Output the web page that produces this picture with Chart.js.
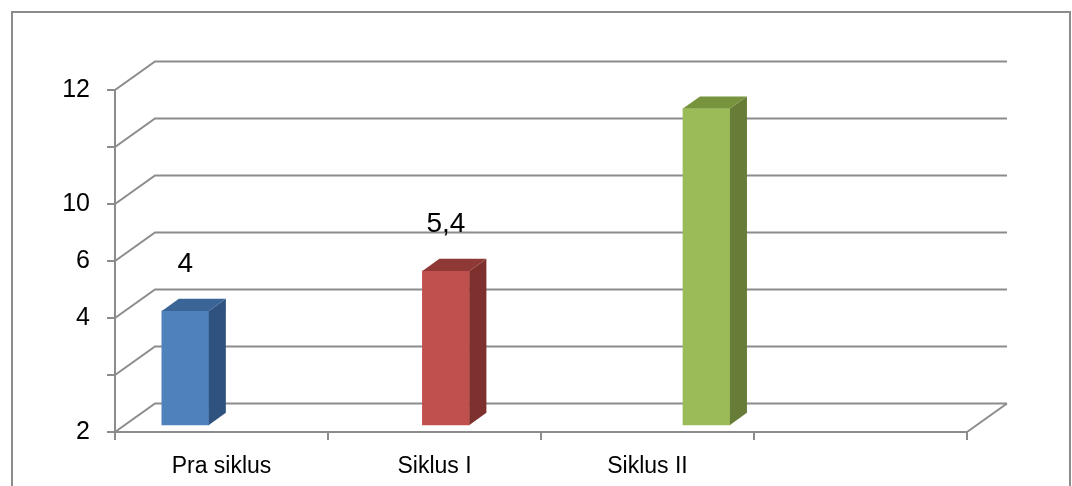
<!DOCTYPE html>
<html>
<head>
<meta charset="utf-8">
<script src="https://cdn.jsdelivr.net/npm/chart.js@4/dist/chart.umd.min.js"></script>
<style>
  html, body { margin: 0; padding: 0; background: #ffffff; }
  canvas { display: block; }
</style>
</head>
<body>
<canvas id="chart" width="1072" height="486"></canvas>
<script>
// Categories on the floor axis
const categories = ['Pra siklus', 'Siklus I', 'Siklus II', ''];
// Bar values (one bar per cycle)
const barValues = [4, 5.4, 11.1];
// Which bars carry a value label
const showValueLabel = [true, true, false];
// Value axis tick labels, one per gridline from bottom to top (0..12 step 2)
const axisTickLabels = ['2', '', '4', '6', '10', '', '12'];

const frontColors = ['#4F81BD', '#C0504D', '#9BBB59'];
const sideColors  = ['#30527F', '#7D302E', '#667C37'];
const topColors   = ['#3C6597', '#8E3936', '#77933C'];

const GRID = '#8C8C8C';
const FONT = "'Liberation Sans', Arial, sans-serif";

// 3D wall depth (px) and bar geometry inside the depth
const WALL_DX = 40, WALL_DY = -28.5;
const BAR_DEPTH = 0.425;

const frame3d = {
  id: 'frame3d',
  beforeDraw(chart) {
    const ctx = chart.ctx;
    ctx.save();
    ctx.fillStyle = '#ffffff';
    ctx.fillRect(0, 0, chart.width, chart.height);
    ctx.strokeStyle = GRID;
    ctx.lineWidth = 2;
    ctx.strokeRect(12, 12, 1058, 520);
    ctx.restore();
  },
  beforeDatasetsDraw(chart) {
    const ctx = chart.ctx;
    const y = chart.scales.y;
    const area = chart.chartArea;
    ctx.save();
    ctx.strokeStyle = GRID;
    ctx.lineWidth = 2;
    ctx.lineJoin = 'miter';
    y.ticks.forEach(t => {
      const py = y.getPixelForValue(t.value);
      ctx.beginPath();
      ctx.moveTo(area.left, py);
      ctx.lineTo(area.left + WALL_DX, py + WALL_DY);
      ctx.lineTo(area.right + WALL_DX, py + WALL_DY);
      ctx.stroke();
    });
    // right edge of the floor
    ctx.beginPath();
    ctx.moveTo(area.right, area.bottom);
    ctx.lineTo(area.right + WALL_DX, area.bottom + WALL_DY);
    ctx.stroke();
    ctx.restore();
  },
  afterDatasetsDraw(chart) {
    const ctx = chart.ctx;
    const meta = chart.getDatasetMeta(0);
    const dx = WALL_DX * BAR_DEPTH, dy = WALL_DY * BAR_DEPTH;
    ctx.save();
    meta.data.forEach((bar, i) => {
      const p = bar.getProps(['x', 'y', 'base', 'width'], true);
      const l = p.x - p.width / 2, r = p.x + p.width / 2;
      // side face
      ctx.fillStyle = sideColors[i];
      ctx.beginPath();
      ctx.moveTo(r, p.y);
      ctx.lineTo(r + dx, p.y + dy);
      ctx.lineTo(r + dx, p.base + dy);
      ctx.lineTo(r, p.base);
      ctx.closePath();
      ctx.fill();
      // top face
      ctx.fillStyle = topColors[i];
      ctx.beginPath();
      ctx.moveTo(l, p.y);
      ctx.lineTo(l + dx, p.y + dy);
      ctx.lineTo(r + dx, p.y + dy);
      ctx.lineTo(r, p.y);
      ctx.closePath();
      ctx.fill();
      // value label
      if (showValueLabel[i]) {
        ctx.fillStyle = '#000000';
        ctx.font = '28px ' + FONT;
        ctx.textAlign = 'center';
        ctx.textBaseline = 'middle';
        ctx.fillText(String(barValues[i]).replace('.', ','), p.x, p.y - 47);
      }
    });
    ctx.restore();
  }
};

new Chart(document.getElementById('chart'), {
  type: 'bar',
  data: {
    labels: categories,
    datasets: [{
      data: barValues.map((v, i) => ({ x: i, y: v })),
      backgroundColor: frontColors,
      borderWidth: 0,
      barThickness: 47,
      xAxisID: 'xb',
      yAxisID: 'yb'
    }]
  },
  options: {
    responsive: false,
    animation: false,
    layout: { padding: { left: 0, top: 90, right: 105, bottom: 0 } },
    plugins: { legend: { display: false }, tooltip: { enabled: false } },
    scales: {
      x: {
        type: 'category',
        labels: categories,
        offset: true,
        afterFit(s) { s.height = 54; },
        grid: { offset: true, drawOnChartArea: false, drawTicks: true, tickLength: 8, color: GRID, lineWidth: 2 },
        border: { display: true, color: GRID, width: 2 },
        ticks: { color: '#000000', font: { family: FONT, size: 23 }, padding: 13, autoSkip: false, maxRotation: 0 }
      },
      y: {
        type: 'linear',
        min: 0,
        max: 12,
        afterFit(s) { s.width = 115; },
        grid: { drawOnChartArea: false, drawTicks: true, tickLength: 8, color: GRID, lineWidth: 2 },
        border: { display: true, color: GRID, width: 2 },
        ticks: {
          stepSize: 2,
          color: '#000000',
          font: { family: FONT, size: 25 },
          padding: 17,
          callback: (v, idx) => axisTickLabels[idx]
        }
      },
      // plane of the bars, set a quarter of the wall depth behind the front
      xb: { type: 'linear', display: false, offset: false, min: -0.27, max: 3.0, grid: { offset: false } },
      yb: { type: 'linear', display: false, min: -0.25, max: 11.75 }
    }
  },
  plugins: [frame3d]
});
</script>
</body>
</html>
